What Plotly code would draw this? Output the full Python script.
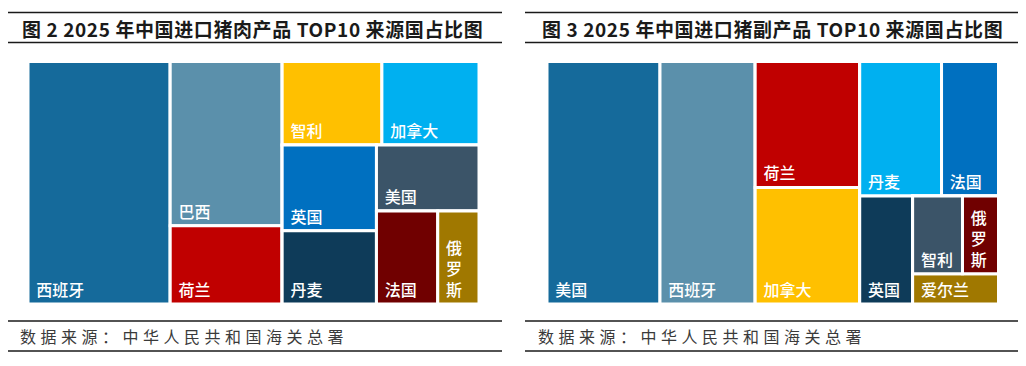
import plotly.graph_objects as go

# The page body has an 8px default margin; the figure is sized to fit inside the window.
OFF = 8
W, H = 1026 - 2 * OFF, 366 - 2 * OFF

# Figure 2: pork products, TOP10 source countries (share, %)
pork_countries = ["西班牙", "巴西", "荷兰", "智利", "加拿大", "英国", "丹麦", "美国", "法国", "俄罗斯"]
pork_share = [31.5, 16.8, 8.0, 7.6, 7.4, 7.4, 6.3, 6.2, 5.2, 3.5]
pork_colors = ["#156A9B", "#5B90AB", "#C00000", "#FFC000", "#00B0F0",
               "#0070C0", "#0E3B59", "#3B5468", "#700000", "#A07800"]
# grouping of tiles (indices into the lists above) as arranged in the original chart
pork_groups = [0, [1, 2], [[3, 4], [[5, 6], [7, [8, 9]]]]]

# Figure 3: pork offal products, TOP10 source countries (share, %)
offal_countries = ["美国", "西班牙", "荷兰", "加拿大", "丹麦", "法国", "英国", "智利", "俄罗斯", "爱尔兰"]
offal_share = [25.4, 21.4, 12.2, 11.3, 10.2, 7.1, 5.3, 3.6, 2.6, 2.4]
offal_colors = ["#156A9B", "#5B90AB", "#C00000", "#FFC000", "#00B0F0",
                "#0070C0", "#0E3B59", "#3B5468", "#700000", "#A07800"]
offal_groups = [0, 1, [2, 3], [[4, 5], [6, [[7, 8], 9]]]]

titles = ["图 2 2025 年中国进口猪肉产品 TOP10 来源国占比图",
          "图 3 2025 年中国进口猪副产品 TOP10 来源国占比图"]
source = "数据来源：中华人民共和国海关总署"

CJK = "Noto Sans CJK SC"
INSET = "\u2004"


def disp(label):
    # narrow tile: stack characters vertically
    if label == "俄罗斯":
        return "<br>".join(INSET + c for c in label)
    return INSET + label


def build(prefix, names, vals, cols, groups):
    ids, parents, labels, values, colors, texts = [], [], [], [], [], []
    counter = [0]

    def walk(node, parent):
        if isinstance(node, int):
            ids.append(prefix + names[node])
            parents.append(parent)
            labels.append(names[node])
            values.append(vals[node])
            colors.append(cols[node])
            texts.append(disp(names[node]))
        else:
            counter[0] += 1
            gid = f"{prefix}g{counter[0]}"
            ids.append(gid)
            parents.append(parent)
            labels.append(" ")
            values.append(0)
            colors.append("white")
            texts.append("")
            for child in node:
                walk(child, gid)

    for n in groups:
        walk(n, "")
    return ids, parents, labels, values, colors, texts


def px_x(x):
    return (x - OFF) / W


def px_y(y):
    return 1 - (y - OFF) / H


fig = go.Figure()

for prefix, names, vals, cols, groups, (x0, x1) in [
    ("p_", pork_countries, pork_share, pork_colors, pork_groups, (28, 479)),
    ("o_", offal_countries, offal_share, offal_colors, offal_groups, (547, 998.5)),
]:
    ids, parents, labels, values, colors, texts = build(prefix, names, vals, cols, groups)
    fig.add_trace(go.Treemap(
        ids=ids,
        labels=labels,
        parents=parents,
        values=values,
        branchvalues="remainder",
        text=texts,
        texttemplate="%{text}",
        textposition="bottom left",
        textfont=dict(family=CJK, size=16, color="white", weight=500),
        marker=dict(colors=colors, line=dict(color="white", width=3),
                    pad=dict(t=0, l=0, r=0, b=0)),
        tiling=dict(packing="slice-dice", pad=0),
        pathbar=dict(visible=False),
        root=dict(color="white"),
        sort=False,
        hoverinfo="label+value",
        domain=dict(x=[px_x(x0), px_x(x1)], y=[px_y(304), px_y(61.5)]),
    ))

shapes = []
for lx0, lx1 in [(7, 502), (525, 1023)]:
    for yy in [12.5, 42.5, 321, 351]:
        shapes.append(dict(type="line", xref="paper", yref="paper",
                           x0=px_x(lx0), x1=px_x(lx1), y0=px_y(yy), y1=px_y(yy),
                           line=dict(color="#1a1a1a", width=1.5)))

annotations = []
for t, tx in zip(titles, [20, 540]):
    annotations.append(dict(text='<b><span style="letter-spacing:0.6px">' + t + "</span></b>",
                            x=px_x(tx), y=px_y(28.5),
                            xref="paper", yref="paper", xanchor="left", yanchor="middle",
                            showarrow=False,
                            font=dict(family=CJK, size=19, color="#1a1a1a")))
for sx in [18, 536]:
    annotations.append(dict(text='<span style="letter-spacing:4.5px">' + source + "</span>",
                            x=px_x(sx), y=px_y(335.5),
                            xref="paper", yref="paper", xanchor="left", yanchor="middle",
                            showarrow=False,
                            font=dict(family=CJK, size=16, color="#3a3a3a")))

fig.update_layout(
    width=W, height=H,
    margin=dict(l=0, r=0, t=0, b=0),
    paper_bgcolor="white",
    plot_bgcolor="white",
    shapes=shapes,
    annotations=annotations,
    uniformtext=dict(minsize=16, mode="show"),
)

fig.write_html("out.html")
